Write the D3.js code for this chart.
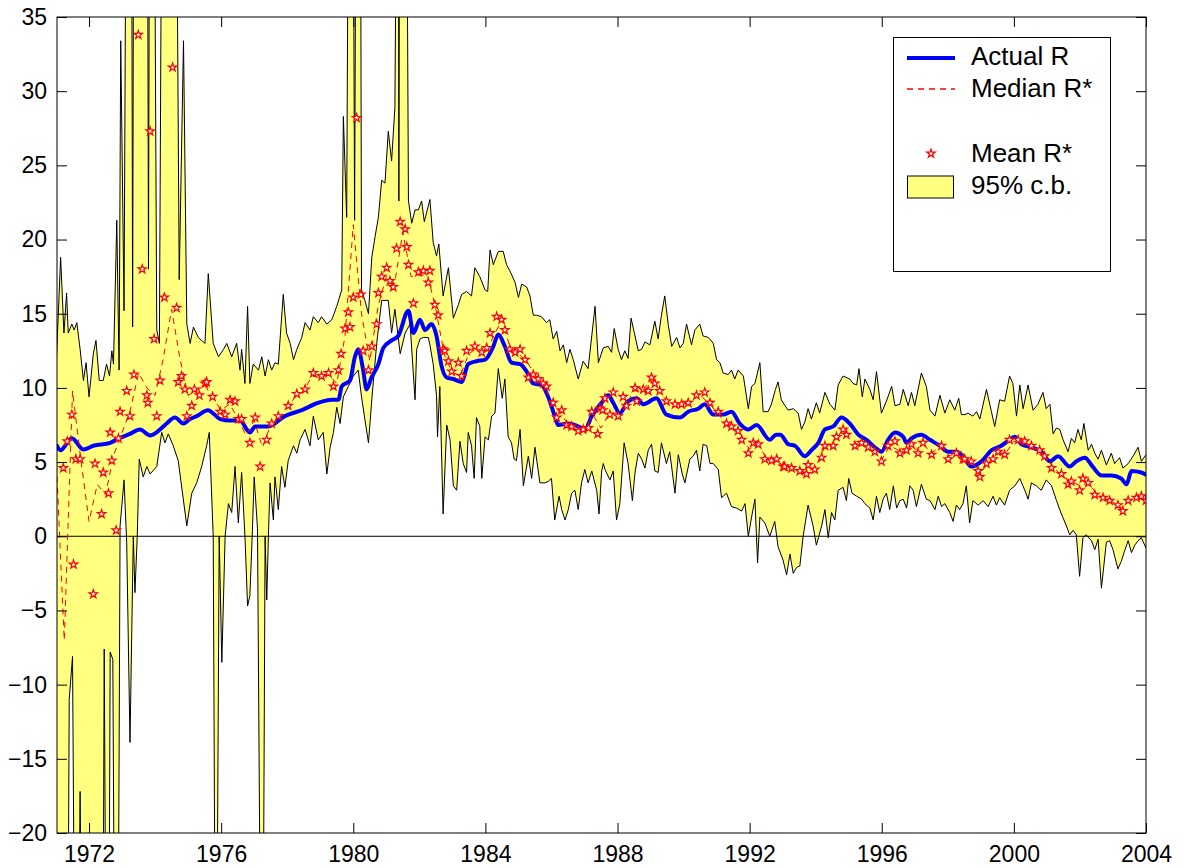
<!DOCTYPE html>
<html><head><meta charset="utf-8">
<script src="https://cdn.jsdelivr.net/npm/d3@7"></script>
<style>
body{margin:0;background:#fff;}
svg{display:block;}
text{font-family:"Liberation Sans",Arial,Helvetica,sans-serif;fill:#000;}
</style>
</head><body>
<svg id="chart" width="1185" height="868"></svg>
<script>
// ---- data: [year, value] pairs ----
const actualR = [
[1971.03,6.1],[1971.13,5.8],[1971.48,6.6],[1971.83,5.85],[1972.13,6.1],[1972.64,6.3],[1972.9,6.6],
[1973.24,6.9],[1973.54,7.2],[1973.85,6.8],[1974.25,7.4],[1974.35,7.6],[1974.6,8.0],[1974.86,7.6],
[1975.06,7.9],[1975.26,8.1],[1975.6,8.5],[1975.97,7.9],[1976.27,7.8],[1976.57,7.8],[1976.87,7.0],
[1977.03,7.4],[1977.43,7.4],[1977.93,8.1],[1978.44,8.5],[1978.94,9.0],[1979.35,9.2],[1979.55,9.2],
[1979.65,10.1],[1979.9,10.5],[1980.05,12.1],[1980.15,12.6],[1980.3,11.2],[1980.4,9.9],[1980.55,10.7],
[1980.76,11.6],[1980.91,12.7],[1981.16,13.2],[1981.36,13.5],[1981.67,15.2],[1981.82,13.7],[1982.02,14.6],
[1982.17,13.9],[1982.37,14.3],[1982.52,13.5],[1982.67,11.5],[1982.83,10.7],[1983.03,10.6],[1983.28,10.4],
[1983.48,11.6],[1983.73,11.8],[1983.99,11.9],[1984.24,12.8],[1984.39,13.6],[1984.59,12.8],[1984.79,11.7],
[1985.05,11.6],[1985.25,11.1],[1985.45,10.3],[1985.7,10.2],[1985.9,9.4],[1986.1,8.1],[1986.2,7.5],
[1986.51,7.6],[1986.81,7.4],[1987.01,7.2],[1987.22,8.1],[1987.52,9.0],[1987.72,9.5],[1987.87,9.0],
[1988.07,8.3],[1988.32,9.1],[1988.58,9.3],[1988.78,8.9],[1989.18,9.3],[1989.48,8.2],[1989.89,8.0],
[1990.14,8.4],[1990.44,8.6],[1990.64,8.9],[1990.9,8.2],[1991.2,8.2],[1991.45,8.4],[1991.7,7.6],
[1991.96,7.2],[1992.21,7.5],[1992.61,6.5],[1992.8,6.85],[1992.93,6.85],[1993.17,6.2],[1993.37,6.1],
[1993.67,5.4],[1993.87,5.8],[1994.08,6.3],[1994.28,7.2],[1994.53,7.4],[1994.78,8.0],[1995.03,7.6],
[1995.29,6.85],[1995.54,6.5],[1995.79,6.0],[1995.99,5.7],[1996.19,6.5],[1996.4,7.0],[1996.65,6.7],
[1996.75,6.3],[1996.9,6.6],[1997.2,6.85],[1997.46,6.5],[1997.76,6.1],[1998.01,5.7],[1998.26,5.7],
[1998.46,5.4],[1998.71,4.7],[1999.02,5.05],[1999.32,5.8],[1999.62,6.1],[1999.87,6.5],[2000.03,6.7],
[2000.23,6.2],[2000.53,6.0],[2000.83,5.7],[2001.09,5.05],[2001.34,5.4],[2001.69,4.7],[2001.89,5.05],
[2002.15,5.3],[2002.35,4.8],[2002.65,4.1],[2002.95,4.1],[2003.25,3.9],[2003.41,3.5],[2003.56,4.4],
[2003.86,4.3],[2004.0,4.15]];

// median R*: quarterly observations starting 1971.0
const medianStart = 1971.0, medianStep = 0.25;
const medianR = [
5.5,-7.0,9.8,5.2, 1.0,3.5,2.8,5.5, 7.0,8.5,11.0,10.0, 9.5,12.0,15.3,12.0,
9.5,9.8,10.2,9.3, 8.5,8.9,8.0,6.8, 7.8,6.0,7.5,8.0, 8.7,9.4,9.8,10.8,
10.7,10.9,10.3,13.5, 21.0,15.0,11.8,15.5, 17.5,17.0,20.5,17.5, 17.6,17.6,15.3,12.3,
11.0,10.9,12.3,12.7, 12.3,13.5,14.6,12.7, 12.3,11.8,10.9,10.2, 9.1,8.3,7.6,7.2,
7.2,8.2,7.3,8.3, 8.3,8.9,9.8,9.8, 10.5,9.8,9.1,8.9, 8.9,9.2,9.5,9.0,
8.4,7.7,7.3,6.6, 5.9,6.2,5.3,5.2, 4.8,4.6,4.4,4.3, 4.7,5.9,6.1,7.0,
6.7,6.2,6.1,5.8, 5.2,6.1,5.8,5.9, 5.8,6.2,5.6,6.0, 5.4,5.6,5.2,4.9,
4.3,5.0,5.6,5.6, 6.4,6.4,6.1,5.8, 5.2,4.5,4.0,3.7, 3.4,3.6,2.9,2.5,
2.3,1.9,2.4,2.6, 2.4];

const meanR = [
[1971.22,4.6],[1971.34,6.4],[1971.48,8.2],[1971.53,-1.9],[1971.6,5.2],[1971.73,5.2],[1972.13,-3.9],
[1972.18,4.9],[1972.38,1.5],[1972.43,4.3],[1972.59,2.9],[1972.64,7.0],[1972.69,5.1],[1972.82,0.4],
[1972.89,6.6],[1972.94,8.4],[1973.14,9.8],[1973.24,8.1],[1973.36,10.9],[1973.49,33.8],[1973.61,18.0],
[1973.75,9.5],[1973.78,9.0],[1973.85,27.3],[1973.97,13.3],[1974.05,8.1],[1974.15,10.5],[1974.28,16.1],
[1974.53,31.6],[1974.65,15.4],[1974.7,10.4],[1974.8,10.8],[1974.9,9.9],[1974.96,8.1],[1975.11,8.8],
[1975.19,9.9],[1975.34,9.5],[1975.51,10.3],[1975.56,10.4],[1975.74,9.4],[1975.97,8.4],[1976.12,8.2],
[1976.27,9.2],[1976.42,9.1],[1976.52,7.9],[1976.62,7.9],[1976.87,6.3],[1977.03,8.0],[1977.18,4.7],
[1977.38,6.5],[1977.53,7.6],[1977.73,8.1],[1978.03,8.8],[1978.29,9.6],[1978.54,9.9],[1978.79,11.0],
[1979.04,10.8],[1979.25,11.0],[1979.4,10.1],[1979.55,11.2],[1979.63,12.3],[1979.75,14.0],[1979.85,15.1],
[1979.9,14.1],[1980.0,16.1],[1980.1,28.2],[1980.23,16.3],[1980.3,12.5],[1980.46,11.2],[1980.56,12.8],
[1980.71,14.3],[1980.76,16.4],[1980.86,17.5],[1981.01,18.1],[1981.11,17.2],[1981.21,16.8],[1981.31,19.4],
[1981.42,21.2],[1981.57,20.7],[1981.62,19.5],[1981.67,18.3],[1981.82,15.7],[1981.97,17.8],[1982.12,17.9],
[1982.27,17.1],[1982.32,17.9],[1982.47,15.6],[1982.57,14.9],[1982.72,12.6],[1982.77,12.5],[1982.88,11.8],
[1982.98,11.1],[1983.18,11.7],[1983.28,10.8],[1983.43,12.5],[1983.68,12.8],[1983.89,12.4],[1984.04,12.7],
[1984.14,13.7],[1984.34,14.8],[1984.49,14.6],[1984.59,13.9],[1984.74,12.6],[1984.9,12.4],[1985.05,12.6],
[1985.2,11.9],[1985.3,10.7],[1985.45,10.9],[1985.6,10.6],[1985.75,10.3],[1985.85,10.1],[1986.05,9.0],
[1986.16,8.0],[1986.31,8.5],[1986.46,7.5],[1986.61,7.4],[1986.81,7.1],[1986.96,7.2],[1987.12,7.3],
[1987.22,8.4],[1987.4,6.9],[1987.47,8.6],[1987.55,8.5],[1987.62,9.3],[1987.77,8.2],[1987.87,9.7],
[1988.02,8.1],[1988.17,9.4],[1988.27,8.8],[1988.53,10.0],[1988.58,9.1],[1988.78,9.9],[1988.93,9.8],
[1989.03,10.7],[1989.13,10.3],[1989.28,9.8],[1989.48,9.1],[1989.74,8.9],[1989.94,8.9],[1990.14,9.0],
[1990.39,9.5],[1990.64,9.7],[1990.8,9.0],[1991.05,8.4],[1991.3,7.6],[1991.45,7.4],[1991.65,7.1],
[1991.76,6.5],[1991.96,5.6],[1992.11,6.3],[1992.26,6.2],[1992.46,5.2],[1992.66,5.1],[1992.82,5.2],
[1993.02,4.7],[1993.06,4.7],[1993.27,4.6],[1993.52,4.4],[1993.72,4.2],[1993.77,4.8],[1993.97,4.5],
[1994.18,5.3],[1994.28,6.1],[1994.53,6.1],[1994.63,6.7],[1994.83,7.2],[1994.93,6.85],[1995.19,6.1],
[1995.39,6.3],[1995.59,6.0],[1995.79,5.7],[1995.99,5.05],[1996.19,6.1],[1996.4,6.4],[1996.55,5.6],
[1996.75,5.8],[1996.9,6.2],[1997.1,5.6],[1997.25,6.3],[1997.51,5.5],[1997.81,6.1],[1998.01,5.2],
[1998.26,5.6],[1998.46,5.2],[1998.51,5.2],[1998.71,5.05],[1998.92,4.4],[1998.97,4.0],[1999.17,4.9],
[1999.37,5.2],[1999.52,5.7],[1999.72,5.5],[1999.87,6.5],[2000.13,6.5],[2000.33,6.4],[2000.53,6.1],
[2000.78,5.8],[2000.93,5.4],[2001.14,4.6],[2001.44,4.2],[2001.64,3.5],[2001.74,3.7],[2001.99,3.1],
[2002.09,3.9],[2002.25,3.6],[2002.45,2.8],[2002.7,2.6],[2002.9,2.4],[2003.15,2.1],[2003.3,1.7],
[2003.46,2.4],[2003.71,2.6],[2003.86,2.7],[2004.0,2.4]];

const upperCB = [
[1971.0,11.2],[1971.14,18.8],[1971.24,13.7],[1971.32,16.4],[1971.37,13.7],[1971.48,14.3],[1971.55,13.9],
[1971.63,14.4],[1971.73,12.6],[1971.83,10.5],[1971.91,11.7],[1972.0,9.4],[1972.13,12.3],[1972.21,13.2],
[1972.31,10.5],[1972.43,10.5],[1972.53,11.6],[1972.62,10.8],[1972.69,12.5],[1972.74,11.6],[1972.84,21.3],
[1972.91,11.2],[1972.96,33.4],[1973.06,15.2],[1973.12,45],[1973.29,45],[1973.32,14.1],[1973.35,45],
[1973.77,45],[1973.8,18.0],[1973.83,45],[1973.98,45],[1974.05,13.9],[1974.13,13.0],[1974.2,45],
[1974.65,45],[1974.73,17.3],[1974.86,33.4],[1974.96,14.3],[1975.06,13.0],[1975.16,14.1],[1975.31,13.4],
[1975.51,13.0],[1975.61,17.7],[1975.76,13.0],[1975.92,12.1],[1976.07,12.6],[1976.17,13.0],[1976.32,12.1],
[1976.47,13.0],[1976.57,11.2],[1976.62,12.6],[1976.72,10.3],[1976.8,15.5],[1976.87,10.3],[1976.97,11.6],
[1977.13,11.2],[1977.23,12.1],[1977.33,10.8],[1977.43,11.9],[1977.53,11.2],[1977.63,11.7],[1977.73,11.6],
[1977.88,16.3],[1977.98,13.7],[1978.09,13.0],[1978.19,11.9],[1978.29,12.6],[1978.44,13.4],[1978.54,14.4],
[1978.69,13.9],[1978.79,14.8],[1978.94,14.4],[1979.04,14.8],[1979.2,14.3],[1979.35,14.6],[1979.5,15.5],
[1979.65,16.6],[1979.7,28.3],[1979.8,21.5],[1979.85,45],[1980.0,45],[1980.04,21.3],[1980.08,45],
[1980.22,45],[1980.25,16.6],[1980.35,15.9],[1980.46,15.0],[1980.56,18.8],[1980.66,20.2],[1980.76,21.5],
[1980.86,24.0],[1980.96,23.8],[1981.06,27.3],[1981.16,25.3],[1981.26,28.9],[1981.31,45],[1981.37,45],
[1981.38,22.6],[1981.4,45],[1981.62,45],[1981.67,22.6],[1981.77,21.1],[1981.87,22.0],[1981.97,22.0],
[1982.07,22.6],[1982.15,21.2],[1982.32,22.7],[1982.42,19.8],[1982.52,18.9],[1982.59,19.7],[1982.72,16.2],
[1982.88,18.1],[1983.03,14.7],[1983.18,15.6],[1983.28,16.3],[1983.43,16.5],[1983.58,16.2],[1983.68,18.1],
[1983.83,17.5],[1983.99,16.6],[1984.07,16.5],[1984.14,19.3],[1984.24,18.3],[1984.39,19.2],[1984.54,19.2],
[1984.64,18.3],[1984.74,17.9],[1984.9,17.1],[1985.0,16.1],[1985.1,17.0],[1985.25,16.8],[1985.35,16.2],
[1985.45,14.9],[1985.55,14.9],[1985.7,14.8],[1985.85,14.4],[1985.95,14.6],[1986.05,13.3],[1986.16,13.8],
[1986.26,12.5],[1986.36,12.9],[1986.46,11.7],[1986.56,12.6],[1986.66,11.9],[1986.81,10.6],[1986.96,11.8],
[1987.11,11.3],[1987.22,13.5],[1987.32,15.5],[1987.42,11.7],[1987.57,12.7],[1987.72,12.8],[1987.82,12.4],
[1987.9,14.0],[1988.02,12.6],[1988.12,11.9],[1988.22,12.5],[1988.32,12.0],[1988.41,14.7],[1988.53,13.5],
[1988.63,12.5],[1988.73,12.6],[1988.83,13.1],[1988.98,12.9],[1989.13,14.5],[1989.23,13.3],[1989.33,14.9],
[1989.43,16.2],[1989.54,14.2],[1989.64,12.8],[1989.79,13.4],[1989.89,12.7],[1989.99,13.0],[1990.09,14.3],
[1990.24,12.9],[1990.34,13.9],[1990.49,14.3],[1990.59,13.5],[1990.75,13.4],[1990.9,13.0],[1991.0,11.9],
[1991.1,11.7],[1991.2,11.0],[1991.35,10.9],[1991.45,11.2],[1991.55,10.6],[1991.65,11.2],[1991.81,10.8],
[1991.96,8.6],[1992.06,10.1],[1992.16,10.3],[1992.31,11.7],[1992.41,8.4],[1992.56,8.4],[1992.66,8.9],
[1992.78,9.9],[1992.86,10.4],[1992.96,9.2],[1993.07,8.8],[1993.17,8.5],[1993.32,8.6],[1993.47,8.3],
[1993.57,7.2],[1993.67,7.7],[1993.77,8.6],[1993.87,7.9],[1994.02,9.0],[1994.12,8.3],[1994.28,9.7],
[1994.43,8.9],[1994.58,8.5],[1994.68,10.2],[1994.83,10.8],[1995.03,10.6],[1995.13,10.3],[1995.24,10.2],
[1995.31,11.3],[1995.41,9.4],[1995.49,10.6],[1995.64,9.9],[1995.74,9.2],[1995.84,11.1],[1995.99,8.3],
[1996.14,9.1],[1996.3,10.1],[1996.4,8.8],[1996.55,8.9],[1996.65,9.9],[1996.8,8.8],[1996.9,9.7],
[1997.0,8.8],[1997.2,11.0],[1997.35,10.1],[1997.46,8.5],[1997.61,8.1],[1997.76,9.5],[1997.91,8.3],
[1998.06,9.2],[1998.21,8.5],[1998.33,9.3],[1998.41,8.2],[1998.52,8.2],[1998.61,8.3],[1998.76,8.1],
[1998.87,8.4],[1998.97,7.9],[1999.17,9.9],[1999.32,8.4],[1999.42,7.4],[1999.57,9.2],[1999.72,9.1],
[1999.87,10.8],[1999.97,10.3],[2000.08,8.1],[2000.18,10.2],[2000.28,8.6],[2000.43,10.2],[2000.58,8.5],
[2000.73,8.9],[2000.88,9.7],[2000.98,8.6],[2001.09,8.9],[2001.19,6.9],[2001.29,7.3],[2001.39,7.2],
[2001.49,6.5],[2001.64,5.7],[2001.74,6.6],[2001.84,6.3],[2001.94,7.2],[2002.04,6.5],[2002.12,7.6],
[2002.25,5.8],[2002.35,6.2],[2002.45,5.6],[2002.55,5.2],[2002.65,5.8],[2002.8,4.8],[2002.95,5.6],
[2003.05,4.9],[2003.2,5.3],[2003.3,4.6],[2003.46,4.9],[2003.61,5.4],[2003.76,6.0],[2003.86,5.05],
[2004.0,5.5]];

const lowerCB = [
[1971.0,-25],[1971.37,-25],[1971.4,-11.0],[1971.5,-8.1],[1971.55,-25],[1971.7,-25],[1971.73,-17.2],
[1971.76,-25],[1972.43,-25],[1972.46,-7.6],[1972.5,-25],[1972.61,-25],[1972.64,-7.8],[1972.72,-8.3],
[1972.76,-25],[1972.89,-25],[1972.94,0.7],[1973.06,3.8],[1973.14,-0.4],[1973.24,-13.9],[1973.34,0],
[1973.39,-3.8],[1973.46,0],[1973.52,5.2],[1973.64,4.0],[1973.75,4.7],[1973.85,4.2],[1974.05,4.7],
[1974.2,7.0],[1974.3,6.3],[1974.4,6.9],[1974.55,6.1],[1974.7,5.1],[1974.96,0.7],[1975.11,2.9],
[1975.26,3.6],[1975.41,4.7],[1975.56,6.1],[1975.64,7.0],[1975.76,0],[1975.81,-25],[1975.88,-25],
[1975.94,0],[1976.02,-8.5],[1976.12,0],[1976.22,2.2],[1976.32,1.6],[1976.42,4.7],[1976.52,0.9],
[1976.62,4.3],[1976.72,0],[1976.8,-4.7],[1976.87,-4.0],[1976.94,0],[1977.0,4.0],[1977.1,0.5],
[1977.18,-25],[1977.28,-25],[1977.33,0],[1977.38,-4.3],[1977.43,0],[1977.48,3.6],[1977.58,1.1],
[1977.63,4.0],[1977.73,1.8],[1977.83,4.7],[1977.93,3.3],[1978.03,5.1],[1978.19,6.1],[1978.29,5.6],
[1978.39,6.5],[1978.54,7.2],[1978.69,6.1],[1978.79,8.1],[1978.94,6.5],[1979.09,7.0],[1979.2,4.2],
[1979.3,6.0],[1979.4,7.0],[1979.5,8.7],[1979.6,7.6],[1979.7,9.4],[1979.85,10.1],[1980.0,10.8],
[1980.15,11.2],[1980.25,9.4],[1980.35,7.9],[1980.46,6.3],[1980.56,9.2],[1980.71,13.0],[1980.86,15.9],
[1981.06,15.9],[1981.16,13.7],[1981.26,15.3],[1981.42,12.3],[1981.57,13.7],[1981.72,14.3],[1981.87,9.2],
[1981.92,12.6],[1982.02,13.3],[1982.12,13.4],[1982.27,13.4],[1982.32,12.9],[1982.42,11.6],[1982.52,9.5],
[1982.55,6.7],[1982.62,10.1],[1982.72,1.5],[1982.83,7.5],[1982.93,6.5],[1983.03,3.4],[1983.13,3.1],
[1983.23,6.4],[1983.33,4.9],[1983.43,4.3],[1983.48,7.0],[1983.58,6.1],[1983.66,3.9],[1983.73,8.0],
[1983.83,7.4],[1983.89,3.9],[1983.99,6.7],[1984.09,6.5],[1984.19,8.1],[1984.29,8.3],[1984.39,11.3],
[1984.51,9.3],[1984.59,10.6],[1984.69,6.7],[1984.79,6.3],[1984.87,5.2],[1984.94,5.1],[1985.05,7.2],
[1985.15,3.4],[1985.3,5.4],[1985.4,3.9],[1985.5,6.0],[1985.65,3.6],[1985.8,3.6],[1985.9,3.7],
[1986.0,3.9],[1986.1,1.1],[1986.23,2.7],[1986.31,1.8],[1986.41,1.1],[1986.51,1.8],[1986.61,2.9],
[1986.71,3.1],[1986.81,1.8],[1986.91,3.6],[1987.01,4.5],[1987.11,3.6],[1987.22,4.4],[1987.37,3.1],
[1987.44,1.5],[1987.52,4.4],[1987.57,4.9],[1987.62,4.5],[1987.77,3.8],[1987.87,4.4],[1987.97,1.1],
[1988.07,2.2],[1988.2,6.3],[1988.32,4.9],[1988.45,2.4],[1988.53,4.3],[1988.63,5.6],[1988.73,5.2],
[1988.83,4.6],[1988.93,5.8],[1989.03,6.2],[1989.13,4.4],[1989.23,4.3],[1989.33,6.3],[1989.48,4.9],
[1989.58,5.7],[1989.74,2.9],[1989.84,5.5],[1989.96,4.2],[1990.04,3.6],[1990.19,5.2],[1990.29,5.4],
[1990.39,5.8],[1990.49,4.4],[1990.59,6.2],[1990.7,6.1],[1990.8,4.9],[1990.9,4.9],[1991.05,4.5],
[1991.15,2.6],[1991.3,2.9],[1991.45,2.0],[1991.6,1.9],[1991.76,1.7],[1991.86,2.2],[1991.96,0],
[1992.06,1.3],[1992.16,2.5],[1992.24,-1.8],[1992.31,1.3],[1992.46,0.9],[1992.61,0],[1992.76,1.0],
[1992.86,-0.7],[1993.01,-1.6],[1993.12,-2.6],[1993.22,-1.2],[1993.32,-2.5],[1993.42,-2.1],[1993.52,-2.0],
[1993.62,0],[1993.77,2.1],[1993.92,0.7],[1994.02,-0.6],[1994.18,0.7],[1994.28,1.8],[1994.38,-0.1],
[1994.48,1.6],[1994.58,1.1],[1994.68,3.1],[1994.83,3.3],[1994.93,2.4],[1995.0,3.9],[1995.1,2.9],
[1995.24,2.7],[1995.39,2.5],[1995.49,2.2],[1995.64,1.9],[1995.74,1.1],[1995.84,2.7],[1995.94,1.6],
[1996.04,2.5],[1996.14,2.9],[1996.24,1.8],[1996.35,3.4],[1996.45,1.9],[1996.55,2.4],[1996.65,2.5],
[1996.75,1.9],[1996.85,3.4],[1996.95,3.1],[1997.05,2.0],[1997.2,3.5],[1997.35,2.5],[1997.46,2.4],
[1997.61,1.8],[1997.71,2.7],[1997.81,2.0],[1997.91,2.2],[1998.06,1.6],[1998.16,1.0],[1998.26,2.1],
[1998.36,1.8],[1998.46,2.2],[1998.56,3.4],[1998.66,0.9],[1998.76,2.4],[1998.92,2.1],[1999.07,2.4],
[1999.22,2.0],[1999.37,2.7],[1999.47,2.1],[1999.57,2.6],[1999.72,2.1],[1999.87,3.1],[2000.03,3.4],
[2000.18,3.9],[2000.33,3.1],[2000.43,2.5],[2000.53,3.6],[2000.68,3.4],[2000.83,3.1],[2000.98,3.8],
[2001.14,3.4],[2001.29,2.4],[2001.44,1.5],[2001.59,0.7],[2001.69,0.1],[2001.79,0.4],[2001.89,0.1],
[2001.99,-2.7],[2002.09,-0.1],[2002.19,0.1],[2002.35,-0.3],[2002.45,-0.9],[2002.55,-0.2],[2002.65,-3.5],
[2002.8,-0.4],[2002.9,-0.3],[2003.0,-0.9],[2003.15,-2.2],[2003.25,-1.7],[2003.35,-1.0],[2003.46,-0.3],
[2003.56,-1.1],[2003.66,-0.6],[2003.76,-0.3],[2003.86,-0.1],[2004.0,-0.8]];

const xTickValues = [1972,1976,1980,1984,1988,1992,1996,2000,2004];
const yTickValues = [-20,-15,-10,-5,0,5,10,15,20,25,30,35];
const legendLabels = ["Actual R","Median R*","Mean R*","95% c.b."];

// ---- drawing ----
const svg = d3.select("#chart");
const L = 57, R = 1146, T = 17, B = 833;
const x = d3.scaleLinear().domain([1971.03, 2004]).range([L, R]);
const y = d3.scaleLinear().domain([-20, 35]).range([B, T]);

svg.append("defs").append("clipPath").attr("id","clip")
  .append("rect").attr("x",L).attr("y",T).attr("width",R-L).attr("height",B-T);
const g = svg.append("g").attr("clip-path","url(#clip)");

const pairLine = d3.line().x(d => x(d[0])).y(d => y(d[1]));

// confidence band polygon: upper edge forward, lower edge back
const bandPoly = upperCB.concat(lowerCB.slice().reverse());
g.append("path").attr("d", pairLine(bandPoly) + "Z")
  .attr("fill","#FFFF80").attr("stroke","none");
[upperCB, lowerCB].forEach(edge => {
  g.append("path").attr("d", pairLine(edge))
    .attr("fill","none").attr("stroke","#000").attr("stroke-width",1);
});

g.append("line").attr("x1",L).attr("x2",R).attr("y1",y(0)).attr("y2",y(0))
  .attr("stroke","#000").attr("stroke-width",1);

g.append("path").attr("d", d3.line().x(d => x(d[0])).y(d => y(d[1])).curve(d3.curveMonotoneX)(actualR))
  .attr("fill","none").attr("stroke","#0000FF").attr("stroke-width",4)
  .attr("stroke-linejoin","round").attr("stroke-linecap","round");

const medLine = d3.line().x((d,i) => x(medianStart + i*medianStep)).y(d => y(d));
g.append("path").datum(medianR).attr("d", medLine)
  .attr("fill","none").attr("stroke","#FF0000").attr("stroke-width",1)
  .attr("stroke-dasharray","6,5");

const star = d3.symbol(d3.symbolStar, 22);
g.selectAll("path.star").data(meanR).join("path").attr("class","star")
  .attr("d", star)
  .attr("transform", d => `translate(${x(d[0])},${y(d[1])})`)
  .attr("fill","#fff").attr("stroke","#FF0000").attr("stroke-width",1.2);

// axes (ticks pointing inward, MATLAB style)
const fs = 23;
const xb = svg.append("g").attr("transform",`translate(0,${B})`)
  .call(d3.axisBottom(x).tickValues(xTickValues).tickFormat(d3.format("d")).tickSize(-10).tickPadding(13));
const xt = svg.append("g").attr("transform",`translate(0,${T})`)
  .call(d3.axisTop(x).tickValues(xTickValues).tickFormat("").tickSize(-10));
const yl = svg.append("g").attr("transform",`translate(${L},0)`)
  .call(d3.axisLeft(y).tickValues(yTickValues).tickFormat(d3.format("d")).tickSize(-10).tickPadding(10));
const yr = svg.append("g").attr("transform",`translate(${R},0)`)
  .call(d3.axisRight(y).tickValues(yTickValues).tickFormat("").tickSize(-10));
[xb,xt,yl,yr].forEach(a => {
  a.select(".domain").remove();
  a.selectAll(".tick line").attr("stroke","#000");
  a.selectAll("text").attr("font-size",fs).attr("font-family",'"Liberation Sans",Arial,sans-serif').attr("fill","#000");
});
svg.append("rect").attr("x",L).attr("y",T).attr("width",R-L).attr("height",B-T)
  .attr("fill","none").attr("stroke","#000").attr("stroke-width",1);

// legend
const lg = svg.append("g");
lg.append("rect").attr("x",893.5).attr("y",37.5).attr("width",217).attr("height",234)
  .attr("fill","#fff").attr("stroke","#000").attr("stroke-width",1);
const lfs = 26, tx = 971;
lg.append("line").attr("x1",907).attr("x2",955).attr("y1",58).attr("y2",58)
  .attr("stroke","#0000FF").attr("stroke-width",4);
lg.append("line").attr("x1",907).attr("x2",955).attr("y1",89).attr("y2",89)
  .attr("stroke","#FF0000").attr("stroke-width",1.3).attr("stroke-dasharray","6,5");
lg.append("path").attr("d",star).attr("transform","translate(931,153.5)")
  .attr("fill","#fff").attr("stroke","#FF0000").attr("stroke-width",1.2);
lg.append("rect").attr("x",907.5).attr("y",176).attr("width",46).attr("height",22)
  .attr("fill","#FFFF80").attr("stroke","#000").attr("stroke-width",1);
const baselines = [65, 97, 161.5, 193.5];
lg.selectAll("text.lab").data(legendLabels).join("text").attr("class","lab")
  .attr("x",tx).attr("y",(d,i)=>baselines[i]).attr("font-size",lfs).text(d=>d);
</script>
</body></html>
